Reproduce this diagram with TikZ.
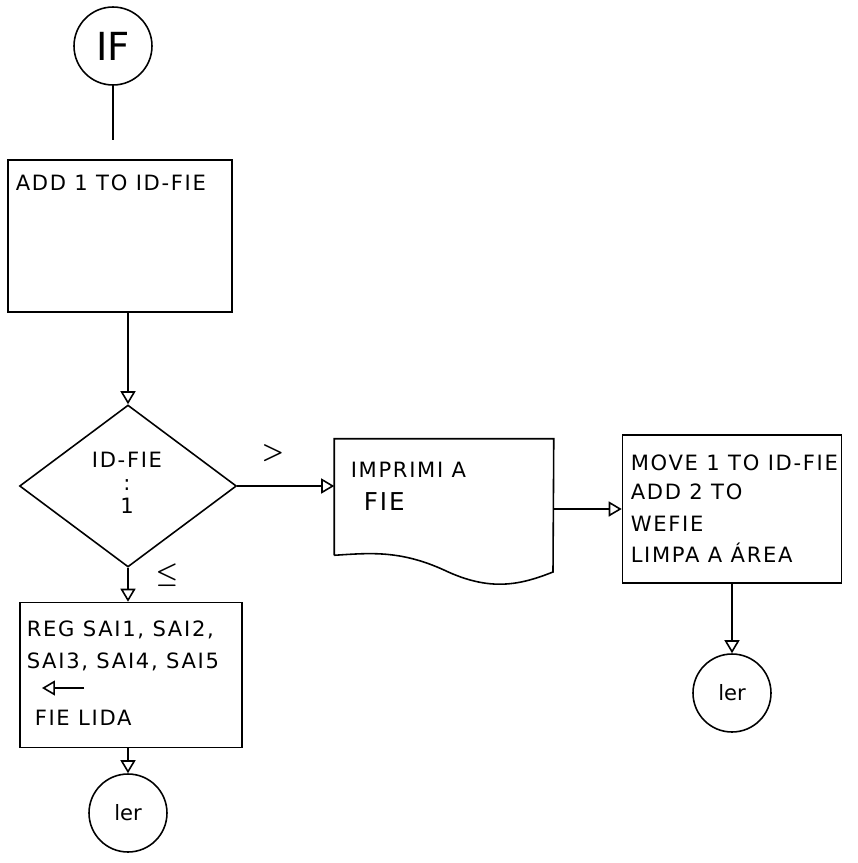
\documentclass[tikz,border=0pt]{standalone}
\usepackage{fontspec}
\setmainfont{DejaVu Sans}
\newfontfamily\handfont[LetterSpace=8]{DejaVu Sans}
\usetikzlibrary{arrows.meta,shapes.geometric}

\tikzset{
  tip/.style={-{Triangle[open,length=0.26cm,width=0.3cm]}},
  termcirc/.style={draw,circle,line width=0.9pt,minimum size=1.56cm,inner sep=0pt},
  txt/.style={font=\handfont\fontsize{12}{14}\selectfont,anchor=west,inner sep=0pt}
}

\begin{document}
\begin{tikzpicture}[x=0.02cm,y=-0.02cm,line width=0.9pt]
\useasboundingbox (0,0) rectangle (858,863);

% Start
\node[termcirc,font=\fontsize{22}{24}\selectfont] (if) at (113,46) {IF};
\coordinate (ifend) at (113,140);
\draw (if)--(ifend);

% First box
\node[draw,minimum width=4.48cm,minimum height=3.04cm] (add) at (120,236) {};
\node[txt] (addt) at (15,183) {ADD 1 TO ID-FIE};

% Decision
\node[draw,diamond,aspect=1.34,minimum width=4.34cm,minimum height=3.24cm,inner sep=0pt] (dec) at (128,486) {};
\node[font=\handfont\fontsize{12}{14}\selectfont,align=center] (dect) at (127,483) {ID-FIE\\[-1pt]:\\[-1pt]1};
\node[font=\Large\boldmath] (gt) at (273,453) {$>$};
\node[font=\Large\boldmath] (le) at (167,575) {$\leq$};

\draw[tip] (add.south -| dec.north)--(dec.north);

% Document
\node[minimum width=4.36cm,minimum height=2.3cm] (doc) at (444,497) {};
\node[txt] (doct) at (350,470) {IMPRIMI A};
\node[txt,font=\handfont\fontsize{14}{16}\selectfont] (doct2) at (363,502) {FIE};
\draw (doc.south west)--(doc.north west)--(doc.north east)--(553,572)
  .. controls (520,585) and (490,592) .. (444,570)
  .. controls (400,550) and (370,553) .. (doc.south west);

\draw[tip] (dec.east)--(doc.west |- dec.east);

% Third box
\node[draw,minimum width=4.38cm,minimum height=2.96cm] (mv) at (732,509) {};
\node[txt] (mvt1) at (630,463) {MOVE 1 TO ID-FIE};
\node[txt] (mvt2) at (630,492) {ADD 2 TO};
\node[txt] (mvt3) at (630,524) {WEFIE};
\node[txt] (mvt4) at (630,553) {LIMPA A ÁREA};

\draw[tip] (doc.east |- mv.west)--(mv.west);

% Right end
\node[termcirc,font=\large] (ler1) at (732,693) {ler};
\draw[tip] (mv.south -| ler1.north)--(ler1.north);

% Second box
\node[draw,minimum width=4.44cm,minimum height=2.9cm] (reg) at (131,675) {};
\node[txt] (regt1) at (26,630) {REG SAI1, SAI2,};
\node[txt] (regt2) at (26,662) {SAI3, SAI4, SAI5};
\coordinate (la) at (84,688);
\coordinate (lb) at (42,688);
\draw[tip] (la)--(lb);
\node[txt] (regt4) at (34,718) {FIE LIDA};

\draw[tip] (dec.south)--(dec.south |- reg.north);

% Left end
\node[termcirc,font=\large] (ler2) at (128,813) {ler};
\draw[tip] (reg.south -| ler2.north)--(ler2.north);

\end{tikzpicture}
\end{document}
